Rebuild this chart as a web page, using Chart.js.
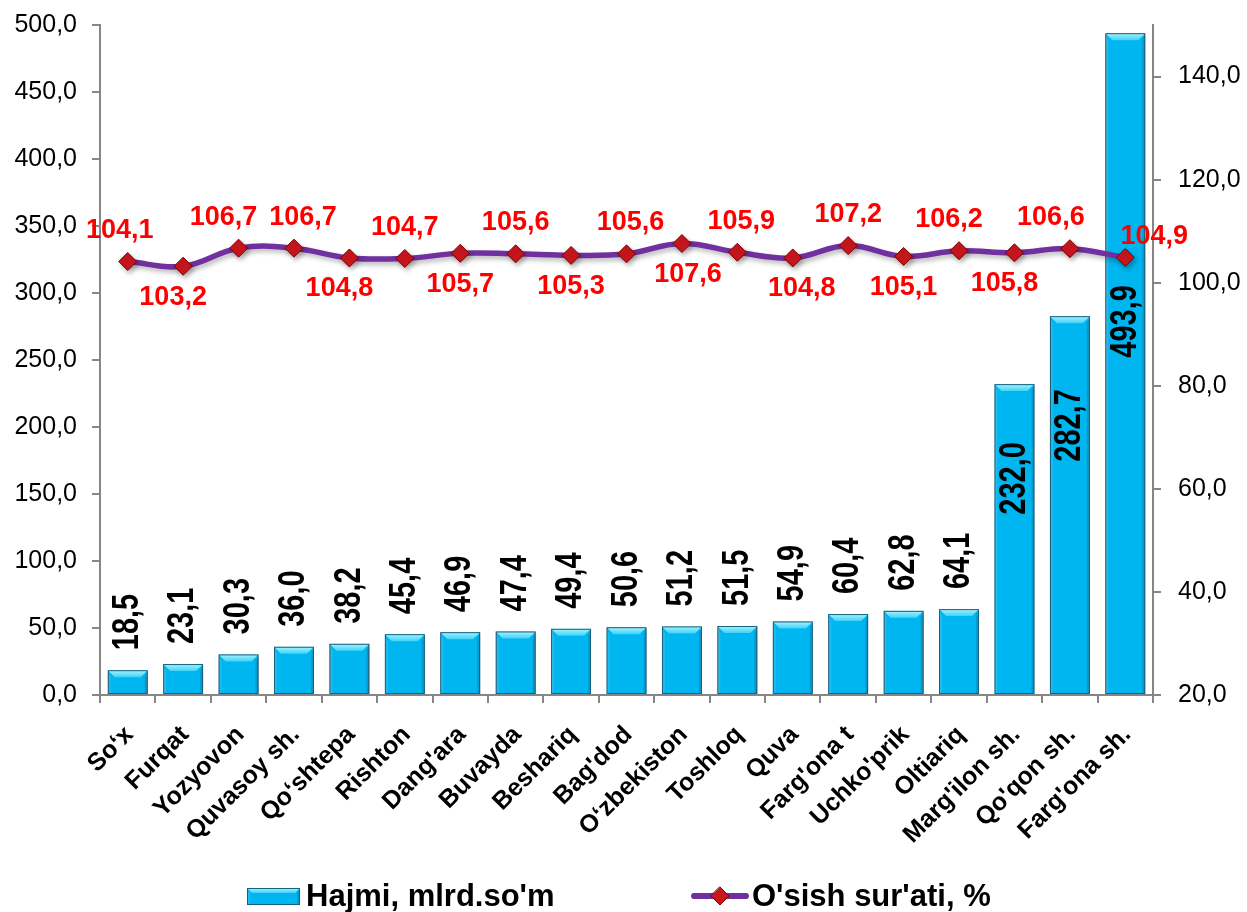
<!DOCTYPE html>
<html lang="uz">
<head>
<meta charset="utf-8">
<title>Hajmi va o'sish sur'ati</title>
<script src="https://cdn.jsdelivr.net/npm/chart.js@4.4.1/dist/chart.umd.min.js"></script>
<style>
    html, body { margin: 0; padding: 0; background: #fff; }
    #wrap { width: 1247px; height: 912px; }
</style>
</head>
<body>
<div id="wrap"><canvas id="volumeChart"></canvas></div>
<script>
const districts = ['So\u2018x', 'Furqat', 'Yozyovon', 'Quvasoy sh.', 'Qo\u2018shtepa', 'Rishton', "Dang'ara", 'Buvayda', 'Beshariq', "Bag'dod", 'O\u2018zbekiston', 'Toshloq', 'Quva', "Farg'ona t", "Uchko'prik", 'Oltiariq', "Marg'ilon sh.", "Qo'qon sh.", "Farg'ona sh."];
const volume = [18.5, 23.1, 30.3, 36.0, 38.2, 45.4, 46.9, 47.4, 49.4, 50.6, 51.2, 51.5, 54.9, 60.4, 62.8, 64.1, 232.0, 282.7, 493.9];
const growth = [104.1, 103.2, 106.7, 106.7, 104.8, 104.7, 105.7, 105.6, 105.3, 105.6, 107.6, 105.9, 104.8, 107.2, 105.1, 106.2, 105.8, 106.6, 104.9];
const seriesNames = ["Hajmi, mlrd.so'm", "O'sish sur'ati, %"];

const FONT = 'Arial, "Liberation Sans", sans-serif';
const AXIS_GREY = '#868686';
const fmt = (v) => v.toFixed(1).replace('.', ',');

function polygon(ctx, pts, fill) {
    ctx.beginPath();
    ctx.moveTo(pts[0][0], pts[0][1]);
    pts.slice(1).forEach((p) => ctx.lineTo(p[0], p[1]));
    ctx.closePath();
    ctx.fillStyle = fill;
    ctx.fill();
}

// excel-like bevel drawn over a plain bar
function drawBevel(ctx, x0, y0, x1, y1, size) {
    const b = Math.min(size, (y1 - y0) / 2, (x1 - x0) / 2);
    const top = ctx.createLinearGradient(0, y0, 0, y0 + b);
    top.addColorStop(0, '#A6F4FF');
    top.addColorStop(1, '#40D2F8');
    polygon(ctx, [[x0, y0], [x1, y0], [x1 - b, y0 + b], [x0 + b, y0 + b]], top);
    polygon(ctx, [[x1, y0], [x1, y1], [x1 - 3, y1], [x1 - 3, y0 + b]], 'rgba(0, 70, 120, 0.22)');
    polygon(ctx, [[x0, y0], [x0 + 3, y0 + b], [x0 + 3, y1], [x0, y1]], 'rgba(255, 255, 255, 0.10)');
    ctx.strokeStyle = '#17627F';
    ctx.lineWidth = 1;
    ctx.strokeRect(x0 + 0.5, y0 + 0.5, x1 - x0 - 1, y1 - y0 - 1);
}

function drawDiamond(ctx, x, y, r) {
    ctx.beginPath();
    ctx.moveTo(x, y - r);
    ctx.lineTo(x + r, y);
    ctx.lineTo(x, y + r);
    ctx.lineTo(x - r, y);
    ctx.closePath();
    ctx.fillStyle = '#C8161D';
    ctx.fill();
    ctx.strokeStyle = '#7A0000';
    ctx.lineWidth = 1;
    ctx.stroke();
}

const bevelBars = {
    id: 'bevelBars',
    beforeDatasetDraw(chart, args) {
        const ctx = chart.ctx;
        ctx.save();
        ctx.shadowColor = 'rgba(0, 0, 0, 0.28)';
        ctx.shadowBlur = 5;
        ctx.shadowOffsetX = args.meta.type === 'bar' ? 3 : 2;
        ctx.shadowOffsetY = 3;
    },
    afterDatasetDraw(chart, args, opts) {
        const ctx = chart.ctx;
        ctx.restore();
        if (args.meta.type !== 'bar') return;
        args.meta.data.forEach((el) => {
            const { x, y, base, width } = el.getProps(['x', 'y', 'base', 'width'], true);
            drawBevel(ctx, x - width / 2, y, x + width / 2, base, opts.size);
        });
    },
};

const valueLabels = {
    id: 'valueLabels',
    afterDatasetsDraw(chart, args, opts) {
        const ctx = chart.ctx;
        const bars = chart.getDatasetMeta(0);
        const line = chart.getDatasetMeta(1);

        ctx.save();
        ctx.font = `bold 29px ${FONT}`;
        ctx.fillStyle = '#000';
        ctx.textBaseline = 'middle';
        bars.data.forEach((el, i) => {
            const inside = opts.inside[i];
            ctx.save();
            ctx.translate(el.x, inside === undefined ? el.y - opts.barGap : el.y + inside);
            ctx.rotate(-Math.PI / 2);
            ctx.scale(1, 1.28);
            ctx.textAlign = inside === undefined ? 'left' : 'right';
            ctx.fillText(fmt(volume[i]), 0, 0);
            ctx.restore();
        });

        ctx.font = `bold 27px ${FONT}`;
        ctx.fillStyle = '#FF0000';
        ctx.textAlign = 'center';
        line.data.forEach((el, i) => {
            const side = opts.sides[i];
            let dy = -opts.pointGap;
            if (side === 'down') dy = opts.pointGap;
            if (side === 'right') dy = -21;
            ctx.fillText(fmt(growth[i]), el.x + opts.shift[i], el.y + dy);
        });
        ctx.restore();
    },
};

// category labels drawn like excel: rotated 45 deg, top-right corner at the tick
const slantedLabels = {
    id: 'slantedLabels',
    afterDraw(chart, args, opts) {
        const ctx = chart.ctx;
        const xScale = chart.scales.x;
        ctx.save();
        ctx.font = `bold 25px ${FONT}`;
        ctx.fillStyle = '#000';
        ctx.textAlign = 'right';
        ctx.textBaseline = 'top';
        districts.forEach((name, i) => {
            ctx.save();
            ctx.translate(xScale.getPixelForTick(i) + opts.dx, xScale.top + opts.dy);
            ctx.rotate(-Math.PI / 4);
            ctx.fillText(name, 0, 0);
            ctx.restore();
        });
        ctx.restore();
    },
};

const bottomLegend = {
    id: 'bottomLegend',
    afterDraw(chart) {
        const ctx = chart.ctx;
        const y = 896;
        ctx.save();
        ctx.fillStyle = '#00B6F0';
        ctx.fillRect(247, y - 8, 53, 17);
        drawBevel(ctx, 247, y - 8, 300, y + 9, 5);

        ctx.strokeStyle = '#7030A0';
        ctx.lineWidth = 6;
        ctx.lineCap = 'round';
        ctx.beginPath();
        ctx.moveTo(694, y);
        ctx.lineTo(746, y);
        ctx.stroke();
        drawDiamond(ctx, 720, y, 9);

        ctx.font = `bold 31px ${FONT}`;
        ctx.fillStyle = '#000';
        ctx.textAlign = 'left';
        ctx.textBaseline = 'alphabetic';
        ctx.fillText(seriesNames[0], 306, y + 10);
        ctx.fillText(seriesNames[1], 752, y + 10);
        ctx.restore();
    },
};

const axisGrid = { drawOnChartArea: false, drawTicks: true, tickLength: 8, color: AXIS_GREY, lineWidth: 2 };
const axisBorder = { color: AXIS_GREY, width: 2 };
const fixWidth = (w) => (scale) => {
    scale.width = w;
    scale.paddingTop = 0;
    scale.paddingBottom = 0;
};

new Chart(document.getElementById('volumeChart'), {
    type: 'bar',
    data: {
        labels: districts,
        datasets: [
            {
                type: 'bar',
                label: seriesNames[0],
                data: volume,
                yAxisID: 'y',
                order: 1,
                backgroundColor: '#00B6F0',
                borderColor: '#17627F',
                borderWidth: 1,
                barPercentage: 0.72,
                categoryPercentage: 1,
            },
            {
                type: 'line',
                label: seriesNames[1],
                data: growth,
                yAxisID: 'y1',
                order: 0,
                borderColor: '#7030A0',
                borderWidth: 5.5,
                tension: 0.4,
                pointStyle: 'rectRot',
                pointRadius: 9,
                pointBackgroundColor: '#C8161D',
                pointBorderColor: '#7A0000',
                pointBorderWidth: 1,
            },
        ],
    },
    options: {
        responsive: true,
        maintainAspectRatio: false,
        animation: false,
        layout: { padding: { top: 25, bottom: 60, left: 0, right: 0 } },
        plugins: {
            legend: { display: false },
            tooltip: { enabled: false },
            bevelBars: { size: 7 },
            slantedLabels: { dx: -7, dy: 27 },
            valueLabels: {
                barGap: 20,
                pointGap: 31,
                inside: { 16: 58, 17: 73, 18: 252 },
                sides: ['up', 'down', 'up', 'up', 'down', 'up', 'down', 'up', 'down', 'up', 'down', 'up', 'down', 'up', 'down', 'up', 'down', 'up', 'right'],
                shift: [-8, -10, -15, 9, -10, 0, 0, 0, 0, 4, 6, 4, 9, 0, 0, -10, -10, -19, 29],
            },
        },
        scales: {
            x: {
                grid: { ...axisGrid, offset: true },
                border: axisBorder,
                ticks: { display: false },
                afterFit: (scale) => { scale.height = 157; },
            },
            y: {
                position: 'left',
                min: 0,
                max: 500,
                grid: axisGrid,
                border: axisBorder,
                ticks: { stepSize: 50, font: { family: FONT, size: 25 }, color: '#000', padding: 15, callback: (v) => fmt(v) },
                afterFit: fixWidth(100),
            },
            y1: {
                position: 'right',
                min: 20,
                max: 150,
                grid: axisGrid,
                border: axisBorder,
                ticks: { stepSize: 20, font: { family: FONT, size: 25 }, color: '#000', padding: 17, callback: (v) => fmt(v) },
                afterBuildTicks: (scale) => { scale.ticks = scale.ticks.filter((t) => t.value % 20 === 0); },
                afterFit: fixWidth(94),
            },
        },
    },
    plugins: [bevelBars, valueLabels, slantedLabels, bottomLegend],
});
</script>
</body>
</html>
